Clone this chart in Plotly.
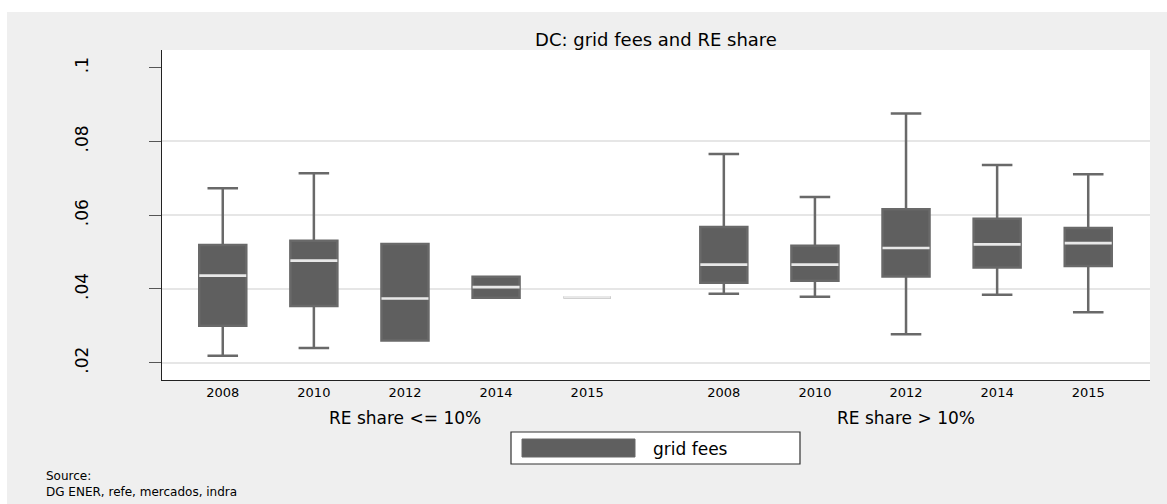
import plotly.graph_objects as go

# ---------------- data ----------------
years = ["2008", "2010", "2012", "2014", "2015"]
groups = ["RE share <= 10%", "RE share > 10%"]

low_lo  = [0.0219, 0.0240, 0.0260, 0.0376, 0.0377]
low_q1  = [0.0300, 0.0354, 0.0260, 0.0376, 0.0377]
low_med = [0.0436, 0.0477, 0.0374, 0.0405, 0.0377]
low_q3  = [0.0519, 0.0531, 0.0522, 0.0433, 0.0377]
low_hi  = [0.0673, 0.0714, 0.0522, 0.0433, 0.0377]

high_lo  = [0.0387, 0.0379, 0.0277, 0.0384, 0.0337]
high_q1  = [0.0417, 0.0422, 0.0434, 0.0458, 0.0462]
high_med = [0.0466, 0.0466, 0.0511, 0.0521, 0.0524]
high_q3  = [0.0568, 0.0517, 0.0616, 0.0590, 0.0565]
high_hi  = [0.0766, 0.0649, 0.0876, 0.0736, 0.0711]

y_ticks = [0.02, 0.04, 0.06, 0.08, 0.1]
y_labels = [".02", ".04", ".06", ".08", ".1"]
grid_vals = [0.02, 0.04, 0.06, 0.08]

title = "DC: grid fees and RE share"
legend_label = "grid fees"
source_lines = ["Source:", "DG ENER, refe, mercados, indra"]

# ---------------- layout helpers ----------------
FONT = "DejaVu Sans"
BOX_FILL = "#5f5f5f"
BOX_LINE = "#696969"
MED_LINE = "#e8e8e8"
BG_GRAY = "#efefef"

n = len(years)
gap = 1.5
pos_low = [i for i in range(n)]
pos_high = [n - 1 + gap + i for i in range(n)]
positions = pos_low + pos_high
tick_text = years + years

q1 = low_q1 + high_q1
med = low_med + high_med
q3 = low_q3 + high_q3
lo = low_lo + high_lo
hi = low_hi + high_hi

box_w = 0.516
yr = [0.0153, 0.1048]

fig = go.Figure()

# main boxes
fig.add_trace(go.Box(
    x=positions, q1=q1, median=med, q3=q3,
    lowerfence=lo, upperfence=hi,
    width=box_w, whiskerwidth=0.65,
    fillcolor=BOX_FILL, line=dict(color=BOX_LINE, width=2.5),
    name=legend_label, showlegend=False, hoverinfo="skip",
    xaxis="x", yaxis="y",
))

# light median lines on top
fig.add_trace(go.Box(
    x=positions, q1=med, median=med, q3=med,
    lowerfence=med, upperfence=med,
    width=box_w, whiskerwidth=0,
    fillcolor="rgba(0,0,0,0)", line=dict(color=MED_LINE, width=2.7),
    showlegend=False, hoverinfo="skip",
    xaxis="x", yaxis="y2",
))

W, H = 1167, 504
ml, mr, mt, mb = 162, 17, 50, 124
pw, ph = W - ml - mr, H - mt - mb

def px_x(p):
    return (p - ml) / pw

def px_y(p):
    return (H - mb - p) / ph

shapes = [
    # white outer strips (top / left) around the gray panel
    dict(type="rect", xref="paper", yref="paper", x0=px_x(0), x1=px_x(W),
         y0=px_y(12), y1=px_y(0), fillcolor="white", line=dict(width=0), layer="below"),
    dict(type="rect", xref="paper", yref="paper", x0=px_x(0), x1=px_x(7),
         y0=px_y(H), y1=px_y(0), fillcolor="white", line=dict(width=0), layer="below"),
    # legend frame
    dict(type="rect", xref="paper", yref="paper", x0=px_x(511), x1=px_x(800),
         y0=px_y(464), y1=px_y(432), fillcolor="white", line=dict(color="#333333", width=1.2)),
    # legend key
    dict(type="rect", xref="paper", yref="paper", x0=px_x(522), x1=px_x(635),
         y0=px_y(457), y1=px_y(439), fillcolor=BOX_FILL, line=dict(color=BOX_LINE, width=1)),
]

annotations = [
    dict(text=groups[0], xref="x", yref="paper", x=sum(pos_low) / n, y=px_y(418),
         showarrow=False, xanchor="center", yanchor="middle",
         font=dict(family=FONT, size=17, color="black")),
    dict(text=groups[1], xref="x", yref="paper", x=sum(pos_high) / n, y=px_y(418),
         showarrow=False, xanchor="center", yanchor="middle",
         font=dict(family=FONT, size=17, color="black")),
    dict(text=legend_label, xref="paper", yref="paper", x=px_x(651), y=px_y(449),
         showarrow=False, xanchor="left", yanchor="middle",
         font=dict(family=FONT, size=17, color="black")),
    dict(text="<br>".join(source_lines), xref="paper", yref="paper", x=px_x(44), y=px_y(484),
         showarrow=False, xanchor="left", yanchor="middle", align="left",
         font=dict(family=FONT, size=12, color="black")),
]

fig.update_layout(
    width=W, height=H,
    margin=dict(l=ml, r=mr, t=mt, b=mb, pad=0),
    paper_bgcolor=BG_GRAY, plot_bgcolor="white",
    boxmode="overlay",
    showlegend=False,
    font=dict(family=FONT, color="black"),
    title=dict(text=title, x=0.5, xref="paper", xanchor="center",
               y=1 - 40 / H, yref="container", yanchor="middle",
               font=dict(family=FONT, size=18, color="black")),
    xaxis=dict(range=[-0.667, 10.178], tickmode="array", tickvals=positions,
               ticktext=tick_text, ticks="", showgrid=False, zeroline=False,
               showline=True, linecolor="#222222", linewidth=1.3,
               tickfont=dict(family=FONT, size=13, color="black")),
    yaxis=dict(range=yr, tickmode="array", tickvals=grid_vals,
               showticklabels=False, ticks="", showgrid=True,
               gridcolor="#e6e6e6", gridwidth=1.5, zeroline=False, showline=False),
    yaxis2=dict(range=yr, overlaying="y", side="left", anchor="x",
                tickmode="array", tickvals=y_ticks, ticktext=y_labels,
                ticks="outside", ticklen=12, tickwidth=1.2, tickcolor="#555555",
                tickangle=-90, ticklabelstandoff=54,
                showgrid=False, zeroline=False,
                showline=True, linecolor="#222222", linewidth=1.3,
                tickfont=dict(family=FONT, size=17, color="black")),
    shapes=shapes,
    annotations=annotations,
)

fig.write_html(
    "out.html",
    config={"displayModeBar": False},
    post_script="document.body.style.margin='0';document.body.style.overflow='hidden';",
)
